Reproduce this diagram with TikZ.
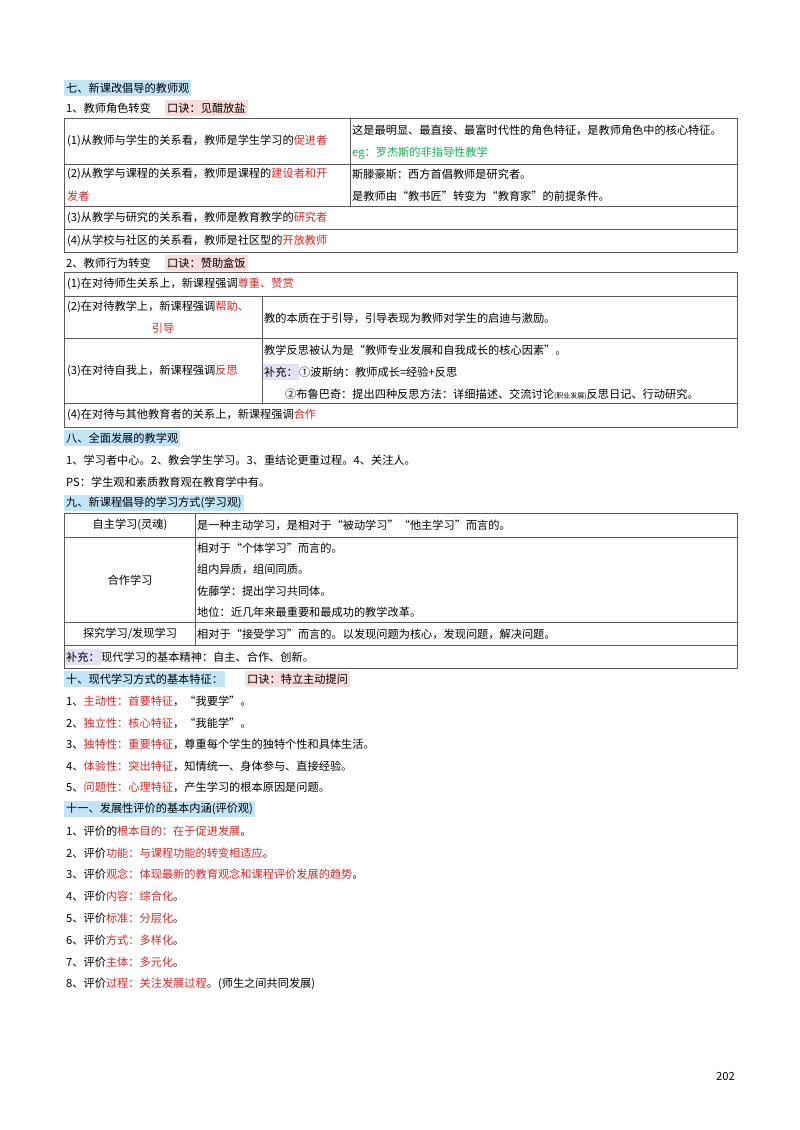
\documentclass[tikz,border=0pt]{standalone}
\usepackage{fontspec}
\usepackage{xcolor}
\usetikzlibrary{positioning}
\newfontfamily\cjk{Noto Sans CJK SC}
\definecolor{hotred}{HTML}{E02424}
\definecolor{egreen}{HTML}{12B050}
\definecolor{hlblue}{HTML}{C2E4F8}
\definecolor{hlpink}{HTML}{FBDCDC}
\definecolor{hlpurple}{HTML}{E6E0F4}
\definecolor{rule}{HTML}{5A5A5A}
\newcommand\hot[1]{\textcolor{hotred}{#1}}
\newcommand\smalltxt[1]{{\fontsize{7}{8}\selectfont #1}}
\tikzset{
txt/.style={anchor=west, inner sep=0pt, font=\cjk\fontsize{11.2}{13}\selectfont},
ctxt/.style={txt, anchor=center},
head/.style={txt, fill=hlblue, inner xsep=2pt, inner ysep=2.5pt},
mnemo/.style={txt, fill=hlpink, inner xsep=2pt, inner ysep=2.5pt},
supp/.style={txt, fill=hlpurple, inner xsep=1pt, inner ysep=2.5pt},
grid/.style={draw=rule, line width=0.6pt}}
\begin{document}
\begin{tikzpicture}[x=1pt, y=-1pt]
\useasboundingbox[fill=white] (0,0) rectangle (800,1130);

% section seven
\node [head] (h7) at (64,88) {七、新课改倡导的教师观};
\node [txt] (s71) at (66,108) {1、教师角色转变};
\node [mnemo] (m71) at (165,108) {口诀：见醋放盐};
\draw [grid] (64,118) rectangle (737,252);
\draw [grid] (64,164) -- (737,164) (64,206) -- (737,206) (64,229) -- (737,229);
\draw [grid] (350,118) -- (350,206);
\node [txt] (r11) at (67,141) {(1)从教师与学生的关系看，教师是学生学习的\hot{促进者}};
\node [txt] (r11a) at (352,130) {这是最明显、最直接、最富时代性的角色特征，是教师角色中的核心特征。};
\node [txt] (r11b) at (352,153) {\textcolor{egreen}{eg：罗杰斯的非指导性教学}};
\node [txt] (r12) at (67,174) {(2)从教学与课程的关系看，教师是课程的\hot{建设者和开}};
\node [txt] (r12x) at (67,196) {\hot{发者}};
\node [txt] (r12a) at (352,174) {斯滕豪斯：西方首倡教师是研究者。};
\node [txt] (r12b) at (352,196) {是教师由“教书匠”转变为“教育家”的前提条件。};
\node [txt] (r13) at (67,218) {(3)从教学与研究的关系看，教师是教育教学的\hot{研究者}};
\node [txt] (r14) at (67,241) {(4)从学校与社区的关系看，教师是社区型的\hot{开放教师}};

\node [txt] (s72) at (66,263) {2、教师行为转变};
\node [mnemo] (m72) at (165,263) {口诀：赞助盒饭};
\draw [grid] (64,272) rectangle (737,427);
\draw [grid] (64,296) -- (737,296) (64,338) -- (737,338) (64,403) -- (737,403);
\draw [grid] (262,296) -- (262,403);
\node [txt] (b1) at (67,284) {(1)在对待师生关系上，新课程强调\hot{尊重、赞赏}};
\node [txt] (b2) at (67,307) {(2)在对待教学上，新课程强调\hot{帮助、}};
\node [ctxt] (b2x) at (163,328) {\hot{引导}};
\node [txt] (b2a) at (264,318) {教的本质在于引导，引导表现为教师对学生的启迪与激励。};
\node [txt] (b3) at (67,371) {(3)在对待自我上，新课程强调\hot{反思}};
\node [txt] (b3a) at (264,350) {教学反思被认为是“教师专业发展和自我成长的核心因素”。};
\node [supp] (b3s) at (263,372) {补充：};
\node [txt, right=0pt of b3s] (b3b) {①波斯纳：教师成长=经验+反思};
\node [txt] (b3c) at (285,394) {②布鲁巴奇：提出四种反思方法：详细描述、交流讨论\smalltxt{(职业发展)}反思日记、行动研究。};
\node [txt] (b4) at (67,415) {(4)在对待与其他教育者的关系上，新课程强调\hot{合作}};

% section eight
\node [head] (h8) at (64,438) {八、全面发展的教学观};
\node [txt] (e1) at (66,460) {1、学习者中心。2、教会学生学习。3、重结论更重过程。4、关注人。};
\node [txt] (e2) at (66,482) {PS：学生观和素质教育观在教育学中有。};

% section nine
\node [head] (h9) at (64,503) {九、新课程倡导的学习方式(学习观)};
\draw [grid] (64,513) rectangle (737,668);
\draw [grid] (64,537) -- (737,537) (64,622) -- (737,622) (64,645) -- (737,645);
\draw [grid] (195,513) -- (195,645);
\node [ctxt] (w1) at (130,525) {自主学习(灵魂)};
\node [txt] (w1a) at (197,525) {是一种主动学习，是相对于“被动学习”“他主学习”而言的。};
\node [ctxt] (w2) at (130,580) {合作学习};
\foreach \line [count=\k] in {相对于“个体学习”而言的。, 组内异质，组间同质。, 佐藤学：提出学习共同体。, 地位：近几年来最重要和最成功的教学改革。}{
  \node [txt] (w2-\k) at (197,527+21.3*\k) {\line};
}
\node [ctxt] (w3) at (130,634) {探究学习/发现学习};
\node [txt] (w3a) at (197,634) {相对于“接受学习”而言的。以发现问题为核心，发现问题，解决问题。};
\node [supp] (w4s) at (65,657) {补充：};
\node [txt, right=0pt of w4s] (w4) {现代学习的基本精神：自主、合作、创新。};

% section ten
\node [head] (h10) at (64,679) {十、现代学习方式的基本特征：};
\node [mnemo] (m10) at (245,679) {口诀：特立主动提问};
\node [txt] (t1) at (66,701) {1、\hot{主动性：首要特征}，“我要学”。};
\node [txt] (t2) at (66,723) {2、\hot{独立性：核心特征}，“我能学”。};
\node [txt] (t3) at (66,744) {3、\hot{独特性：重要特征}，尊重每个学生的独特个性和具体生活。};
\node [txt] (t4) at (66,766) {4、\hot{体验性：突出特征}，知情统一、身体参与、直接经验。};
\node [txt] (t5) at (66,787) {5、\hot{问题性：心理特征}，产生学习的根本原因是问题。};

% section eleven
\node [head] (h11) at (64,809) {十一、发展性评价的基本内涵(评价观)};
\node [txt] (v1) at (66,831) {1、评价的\hot{根本目的：在于促进发展}。};
\node [txt] (v2) at (66,853) {2、评价\hot{功能：与课程功能的转变相适应}。};
\node [txt] (v3) at (66,874) {3、评价\hot{观念：体现最新的教育观念和课程评价发展的趋势}。};
\node [txt] (v4) at (66,896) {4、评价\hot{内容：综合化}。};
\node [txt] (v5) at (66,918) {5、评价\hot{标准：分层化}。};
\node [txt] (v6) at (66,940) {6、评价\hot{方式：多样化}。};
\node [txt] (v7) at (66,962) {7、评价\hot{主体：多元化}。};
\node [txt] (v8) at (66,984) {8、评价\hot{过程：关注发展过程}。(师生之间共同发展)};

\node [txt] (pg) at (716,1076) {202};
\end{tikzpicture}
\end{document}
